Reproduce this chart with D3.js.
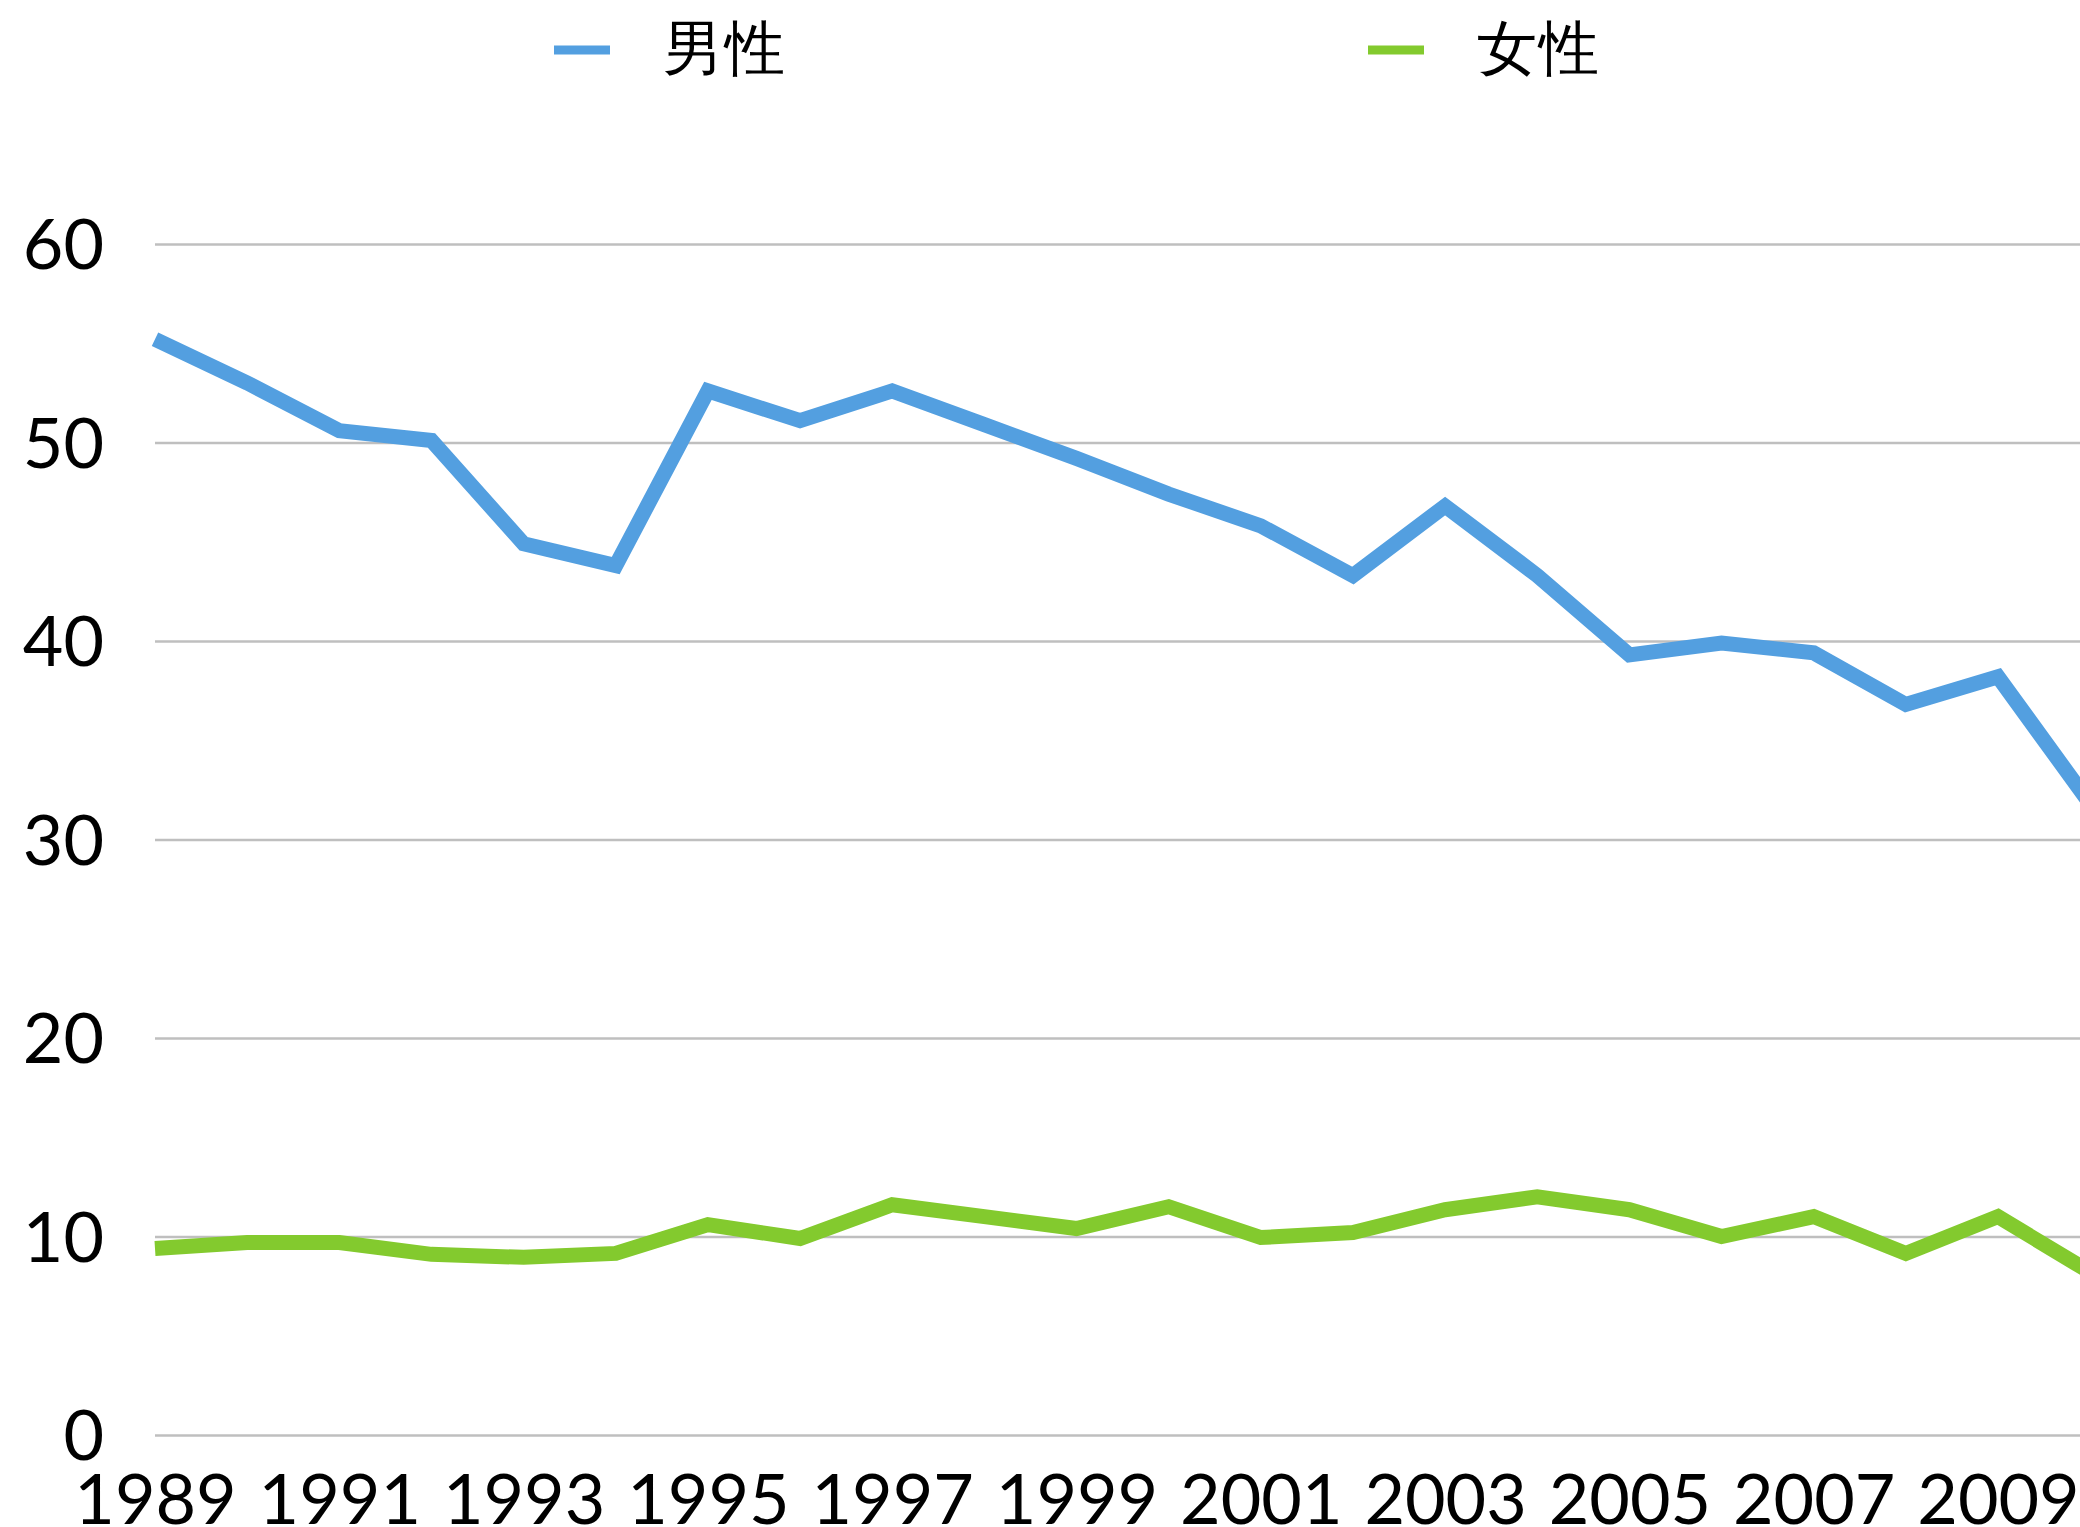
<!DOCTYPE html>
<html><head><meta charset="utf-8">
<script src="https://cdn.jsdelivr.net/npm/d3@7"></script>
<style>
html,body{margin:0;padding:0;background:#fff;overflow:hidden;}
svg{display:block;}
text{font-family:Lato,"Noto Sans",sans-serif;}
</style></head>
<body>
<svg id="chart" width="2080" height="1527"></svg>
<script>
const years = [1989,1990,1991,1992,1993,1994,1995,1996,1997,1998,1999,2000,2001,2002,2003,2004,2005,2006,2007,2008,2009,2010];
const male = [55.2,53.0,50.6,50.1,44.9,43.8,52.6,51.1,52.6,50.9,49.2,47.4,45.8,43.3,46.8,43.3,39.3,39.9,39.4,36.8,38.2,31.8];
const female = [9.4,9.7,9.7,9.1,8.95,9.15,10.6,9.9,11.6,11.0,10.4,11.5,9.95,10.2,11.35,12.0,11.35,10.0,11.0,9.15,11.0,8.2];
const seriesNames = ["男性","女性"];
const seriesColors = ["#539FE0","#83CA2E"];
const yTicks = [0,10,20,30,40,50,60];
const xTicks = [1989,1991,1993,1995,1997,1999,2001,2003,2005,2007,2009];

const svg = d3.select("#chart");
const x = d3.scaleLinear().domain([1989,2009]).range([155,1998]);
const y = d3.scaleLinear().domain([0,60]).range([1435,244]);

// gridlines + y labels
const yAxis = d3.axisLeft(y).tickValues(yTicks).tickSize(-(2080-155)).tickPadding(51).tickFormat(d3.format("d"));
const gy = svg.append("g").attr("transform","translate(155,0)").call(yAxis);
gy.select(".domain").remove();
gy.selectAll(".tick line").attr("stroke","#BFBFBF").attr("stroke-width",2.5);
gy.selectAll(".tick text").attr("font-size",70).attr("font-weight",400).attr("fill","#000").attr("font-family","Lato, 'Noto Sans', sans-serif").attr("dy","0.35em");

// x labels
const xAxis = d3.axisBottom(x).tickValues(xTicks).tickSize(0).tickPadding(0).tickFormat(d3.format("d"));
const gx = svg.append("g").attr("transform","translate(0,1524)").call(xAxis);
gx.select(".domain").remove();
gx.selectAll(".tick text").attr("font-size",70).attr("font-weight",400).attr("fill","#000").attr("font-family","Lato, 'Noto Sans', sans-serif").attr("dy","0");

// lines
const line = d3.line().x((d,i)=>x(years[i])).y(d=>y(d));
[male,female].forEach((s,k)=>{
  svg.append("path").datum(s).attr("d",line)
    .attr("fill","none").attr("stroke",seriesColors[k]).attr("stroke-width",15)
    .attr("stroke-linejoin","miter").attr("stroke-linecap","butt");
});

// legend
const legendX = [554,1368];
seriesNames.forEach((n,k)=>{
  const g = svg.append("g").attr("transform",`translate(${legendX[k]},50)`);
  g.append("line").attr("x1",0).attr("x2",56).attr("y1",0).attr("y2",0)
    .attr("stroke",seriesColors[k]).attr("stroke-width",9);
  g.append("text").attr("x",109).attr("y",-3).attr("dy","0.36em")
    .attr("font-family","'Noto Sans CJK JP', sans-serif").attr("font-weight",300)
    .attr("font-size",60).attr("letter-spacing",2).attr("fill","#000").text(n);
});
</script>
</body></html>
